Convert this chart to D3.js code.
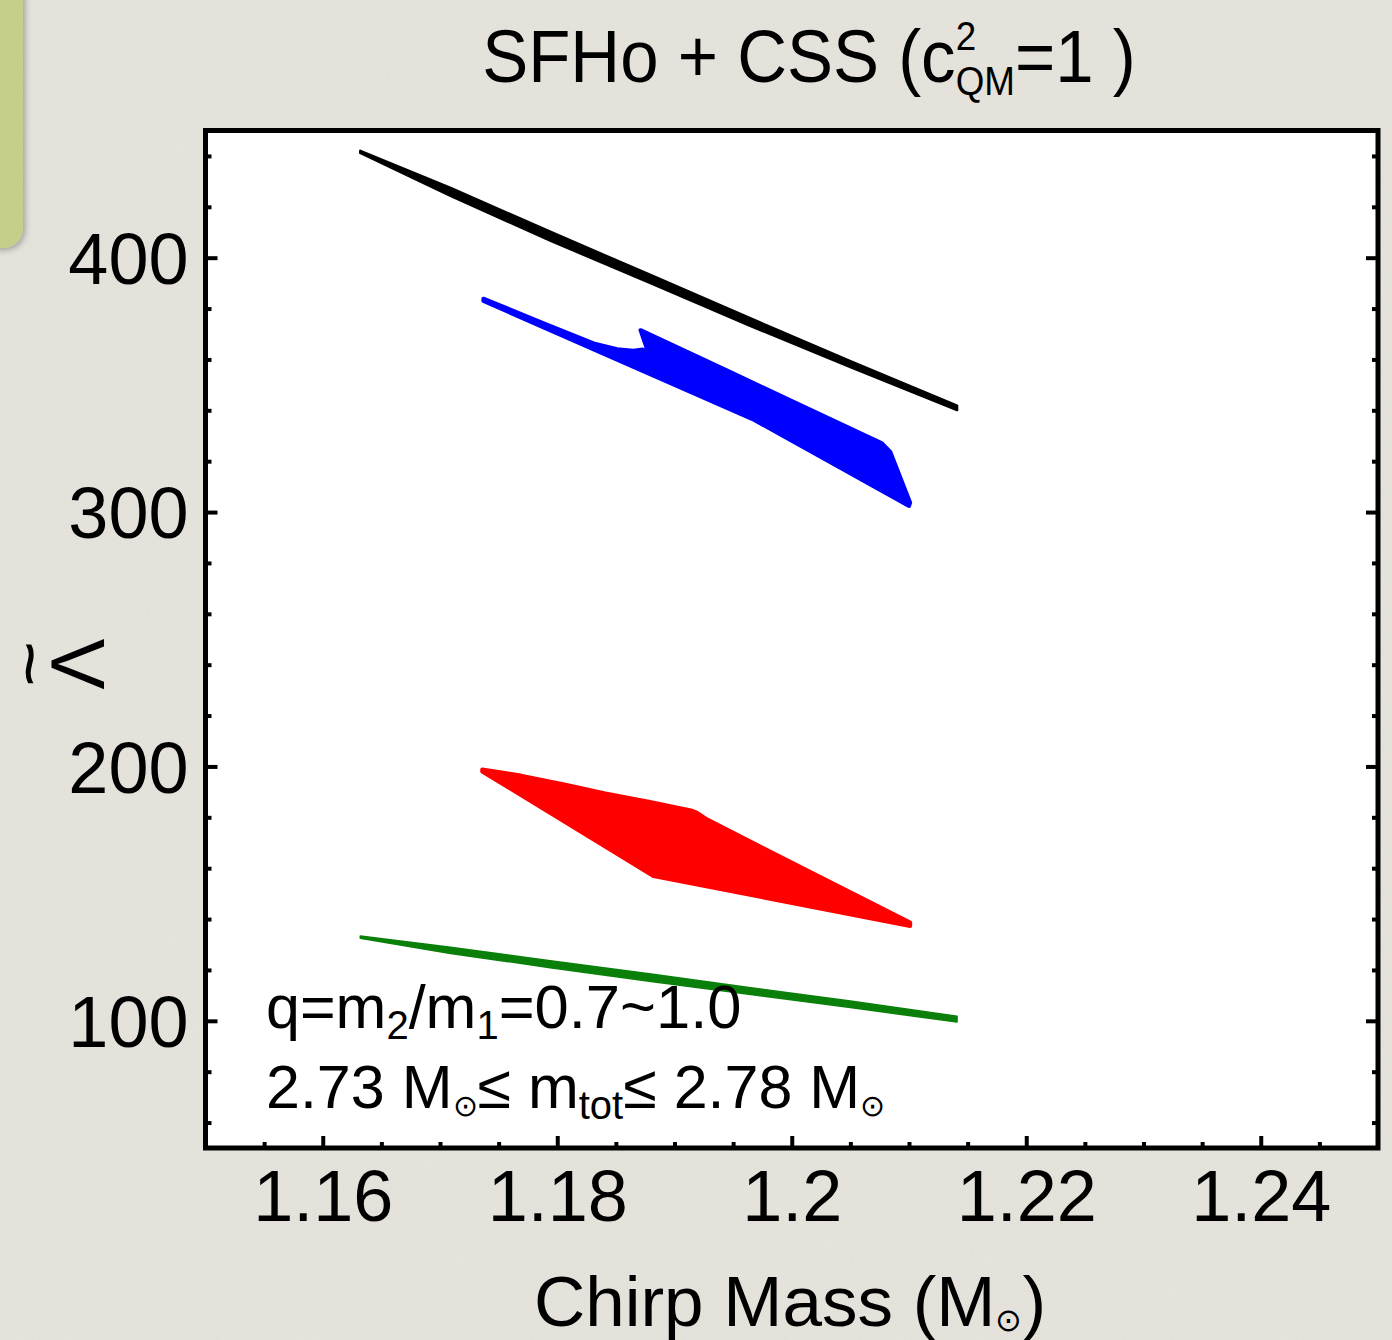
<!DOCTYPE html>
<html>
<head>
<meta charset="utf-8">
<script src="https://cdn.jsdelivr.net/npm/d3@7"></script>
<style>
  html, body { margin: 0; padding: 0; background: #e8e6df; }
  svg { display: block; }
</style>
</head>
<body>
<svg id="chart"></svg>
<script>
// axis ticks
const xTicks = [1.16, 1.18, 1.2, 1.22, 1.24];
const xTickLabels = ["1.16", "1.18", "1.2", "1.22", "1.24"];
const xMinorTicks = [1.155, 1.165, 1.17, 1.175, 1.185, 1.19, 1.195, 1.205, 1.21, 1.215, 1.225, 1.23, 1.235, 1.245];
const yTicks = [100, 200, 300, 400];
const yTickLabels = ["100", "200", "300", "400"];
const yMinorTicks = [60, 80, 120, 140, 160, 180, 220, 240, 260, 280, 320, 340, 360, 380, 420, 440];

// black band (chirp mass, tidal deformability) - upper edge then lower edge
const blackUpper = [[1.1632, 442.0], [1.1709, 427.4], [1.1794, 410.2], [1.1880, 393.1], [1.1965, 376.1], [1.2050, 359.3], [1.2141, 341.8]];
const blackLower = [[1.2141, 340.1], [1.2050, 357.0], [1.1965, 373.1], [1.1880, 389.9], [1.1794, 406.7], [1.1709, 424.3], [1.1632, 441.2]];

// blue region outline
const blueOutline = [[1.1737, 383.9], [1.1789, 374.1], [1.1831, 366.3], [1.1851, 364.0], [1.1865, 363.4], [1.1873, 363.9],
  [1.1878, 362.1], [1.1871, 371.5], [1.1945, 355.6], [1.2002, 343.2], [1.2077, 327.0], [1.2084, 323.7],
  [1.2101, 303.7], [1.2100, 302.4], [1.1968, 336.2], [1.1737, 383.0]];

// red region outline
const redOutline = [[1.1736, 198.8], [1.1769, 196.4], [1.1806, 192.9], [1.1841, 189.4], [1.1878, 186.1], [1.1914, 182.7],
  [1.1919, 181.8], [1.1928, 179.1], [1.2101, 138.6], [1.2101, 137.3], [1.1882, 156.9], [1.1736, 198.0]];

// green band
const greenUpper = [[1.1632, 133.3], [1.1709, 128.9], [1.1794, 123.6], [1.1880, 118.4], [1.1965, 113.0], [1.2050, 107.8], [1.2141, 101.8]];
const greenLower = [[1.2141, 99.5], [1.2050, 105.2], [1.1965, 110.3], [1.1880, 115.5], [1.1794, 120.9], [1.1709, 126.5], [1.1632, 132.5]];

const W = 1392, H = 1340;
const margin = { top: 130.5, right: 14, bottom: 192, left: 205.5 };
const width = W - margin.left - margin.right,
      height = H - margin.top - margin.bottom;

const svg = d3.select("#chart").attr("width", W).attr("height", H);
const defs = svg.append("defs");

// paper texture
const paper = defs.append("filter").attr("id", "paper").attr("x", 0).attr("y", 0).attr("width", 1).attr("height", 1);
paper.append("feTurbulence").attr("type", "fractalNoise").attr("baseFrequency", 0.9).attr("numOctaves", 3).attr("seed", 4);
paper.append("feColorMatrix").attr("type", "matrix")
    .attr("values", "0 0 0 0 0.45  0 0 0 0 0.44  0 0 0 0 0.40  0.16 0 0 0 0");

const shadow = defs.append("filter").attr("id", "shadow").attr("x", -0.5).attr("y", -0.5).attr("width", 2).attr("height", 2);
shadow.append("feDropShadow").attr("dx", 2).attr("dy", 2).attr("stdDeviation", 3).attr("flood-opacity", 0.3);

svg.append("rect").attr("width", W).attr("height", H).attr("fill", "#e8e6df");
svg.append("rect").attr("width", W).attr("height", H).attr("filter", "url(#paper)");

// green tab at top left
svg.append("rect")
    .attr("x", -40).attr("y", -40).attr("width", 63).attr("height", 288)
    .attr("rx", 20).attr("ry", 20)
    .attr("fill", "#c6cf89")
    .attr("filter", "url(#shadow)");

const x = d3.scaleLinear().domain([1.15, 1.25]).range([margin.left, margin.left + width]);
const y = d3.scaleLinear().domain([50, 450]).range([margin.top + height, margin.top]);

// plot area
svg.append("rect")
    .attr("x", margin.left).attr("y", margin.top)
    .attr("width", width).attr("height", height)
    .attr("fill", "white");

const plot = svg.append("g");
const area = d3.line().x(d => x(d[0])).y(d => y(d[1]));

plot.append("path")
    .attr("d", area(blackUpper.concat(blackLower)) + "Z")
    .attr("fill", "black").attr("stroke", "black").attr("stroke-width", 2.5).attr("stroke-linejoin", "round");

plot.append("path")
    .attr("d", area(blueOutline) + "Z")
    .attr("fill", "#0000ff").attr("stroke", "#0000ff").attr("stroke-width", 4).attr("stroke-linejoin", "round");

plot.append("path")
    .attr("d", area(redOutline) + "Z")
    .attr("fill", "#ff0000").attr("stroke", "#ff0000").attr("stroke-width", 4).attr("stroke-linejoin", "round");

plot.append("path")
    .attr("d", area(greenUpper.concat(greenLower)) + "Z")
    .attr("fill", "#0a800a").attr("stroke", "#0a800a").attr("stroke-width", 1.5).attr("stroke-linejoin", "round");

// axes (ticks point inward)
const tickFont = "'Liberation Sans', Arial, sans-serif";

function styleAxis(g) {
    g.select(".domain").remove();
    g.selectAll(".tick line").attr("stroke", "black").attr("stroke-width", 4);
    g.selectAll(".tick text").attr("fill", "black")
        .style("font-family", tickFont).style("font-size", "72px");
}

svg.append("g")
    .attr("transform", `translate(0,${margin.top + height})`)
    .call(d3.axisBottom(x).tickValues(xTicks).tickSize(-12).tickPadding(22)
        .tickFormat((d, i) => xTickLabels[i]))
    .call(styleAxis);

svg.append("g")
    .attr("transform", `translate(0,${margin.top + height})`)
    .call(d3.axisBottom(x).tickValues(xMinorTicks).tickSize(-6).tickFormat(""))
    .call(styleAxis);

svg.append("g")
    .attr("transform", `translate(${margin.left},0)`)
    .call(d3.axisLeft(y).tickValues(yTicks).tickSize(-12).tickPadding(17)
        .tickFormat((d, i) => yTickLabels[i]))
    .call(styleAxis)
    .selectAll(".tick text").attr("dy", "0.36em");

svg.append("g")
    .attr("transform", `translate(${margin.left},0)`)
    .call(d3.axisLeft(y).tickValues(yMinorTicks).tickSize(-6).tickFormat(""))
    .call(styleAxis);

svg.append("g")
    .attr("transform", `translate(${margin.left + width},0)`)
    .call(d3.axisRight(y).tickValues(yTicks).tickSize(-12).tickFormat(""))
    .call(styleAxis);

svg.append("g")
    .attr("transform", `translate(${margin.left + width},0)`)
    .call(d3.axisRight(y).tickValues(yMinorTicks).tickSize(-6).tickFormat(""))
    .call(styleAxis);

// frame
svg.append("rect")
    .attr("x", margin.left).attr("y", margin.top)
    .attr("width", width).attr("height", height)
    .attr("fill", "none").attr("stroke", "black").attr("stroke-width", 5);

// rich text: a list of pieces, each {t, size, dy} or {sup, sub, supSize, subSize, supDy, subDy}
function richText(parent, px, py, parts, family, anchor, sx) {
    sx = sx || 1;
    const g = parent.append("g");
    let cx = 0;
    parts.forEach(p => {
        if (p.sup !== undefined) {
            const a = g.append("text").attr("x", cx).attr("y", p.supDy)
                .style("font-family", family).style("font-size", p.supSize + "px").text(p.sup);
            const b = g.append("text").attr("x", cx).attr("y", p.subDy)
                .style("font-family", family).style("font-size", p.subSize + "px").text(p.sub);
            cx += Math.max(a.node().getComputedTextLength(), b.node().getComputedTextLength()) + (p.pad || 0);
        } else {
            const t = g.append("text").attr("x", cx).attr("y", p.dy || 0)
                .style("font-family", family).style("font-size", p.size + "px").text(p.t);
            cx += t.node().getComputedTextLength() + (p.pad || 0);
        }
    });
    const shift = anchor === "middle" ? -cx * sx / 2 : 0;
    g.attr("transform", `translate(${px + shift},${py}) scale(${sx},1)`);
    return g;
}

const textFont = "'Liberation Sans', Arial, sans-serif";

// title
richText(svg, 809, 82, [
    { t: "SFHo + CSS (c", size: 75 },
    { sup: "2", sub: "QM", supSize: 40, subSize: 40, supDy: -32, subDy: 13 },
    { t: "=1 )", size: 75 }
], textFont, "middle", 0.92);

// x axis label
richText(svg, 790, 1326, [
    { t: "Chirp Mass (M", size: 71 },
    { t: "⊙", size: 32, dy: 5 },
    { t: ")", size: 71 }
], textFont, "middle");

// y axis label: Lambda with tilde, rotated
const ylab = svg.append("g").attr("transform", "translate(76,664) rotate(-90)");
ylab.append("text").attr("x", 0).attr("y", 28)
    .attr("text-anchor", "middle")
    .style("font-family", textFont).style("font-size", "76px").text("Λ");
ylab.append("g").attr("transform", "translate(0,-47) scale(2.2,1.6)")
    .append("text").attr("x", 0).attr("y", 12)
    .attr("text-anchor", "middle")
    .attr("stroke", "black").attr("stroke-width", 0.8)
    .style("font-family", textFont).style("font-size", "34px").text("~");

// annotation
richText(svg, 266, 1028, [
    { t: "q=m", size: 61 },
    { t: "2", size: 40, dy: 11 },
    { t: "/m", size: 61 },
    { t: "1", size: 40, dy: 11 },
    { t: "=0.7~1.0", size: 61.5 }
], textFont, "start");

richText(svg, 266, 1108, [
    { t: "2.73 M", size: 61 },
    { t: "⊙", size: 30, dy: 8 },
    { t: "≤ m", size: 61 },
    { t: "tot", size: 40, dy: 11 },
    { t: "≤ 2.78 M", size: 61 },
    { t: "⊙", size: 30, dy: 8 }
], textFont, "start");
</script>
</body>
</html>
